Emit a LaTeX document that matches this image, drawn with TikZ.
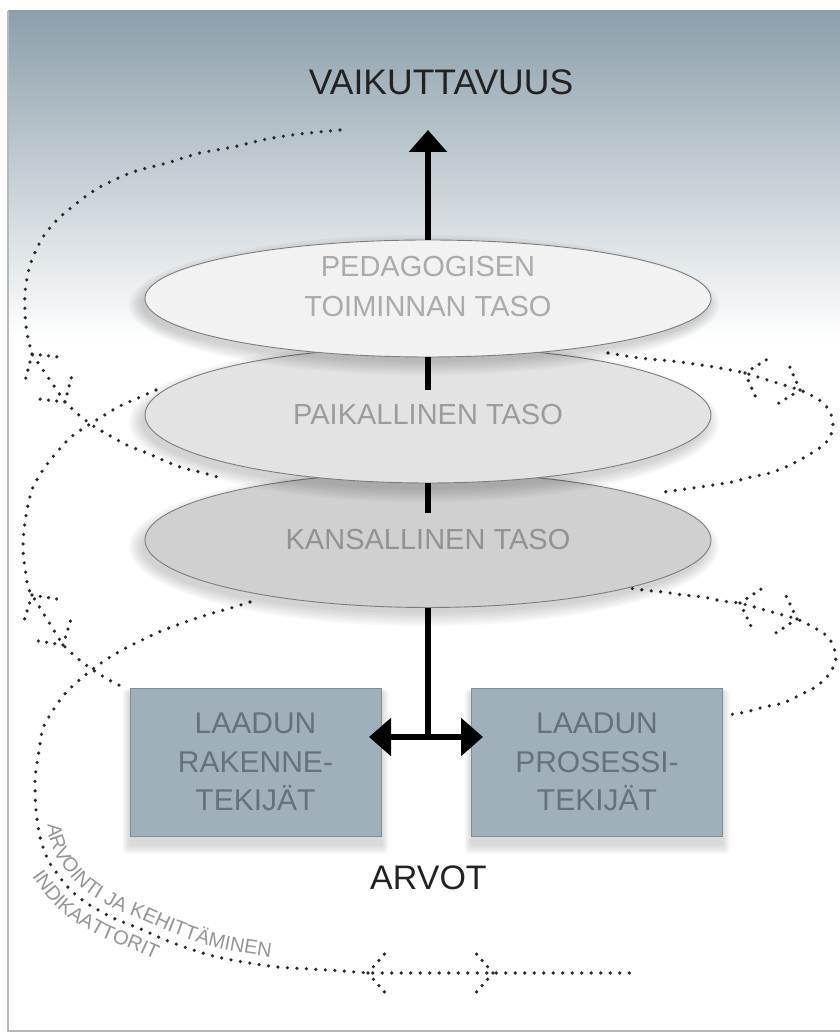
\documentclass[tikz,border=0pt]{standalone}
\usepackage{fontspec}
\setmainfont{Liberation Sans}
\usetikzlibrary{arrows.meta,shapes.geometric,decorations.text}
\definecolor{bgtop}{HTML}{8C9FAB}
\definecolor{bgmid}{HTML}{D2DADF}
\definecolor{dotc}{HTML}{2A2A2A}
\definecolor{ellborder}{HTML}{7C7C7C}
\definecolor{eonefill}{HTML}{F2F2F2}
\definecolor{etwofill}{HTML}{E3E3E3}
\definecolor{ethreefill}{HTML}{D0D0D0}
\definecolor{lvltext}{HTML}{9C9C9C}
\definecolor{boxfill}{HTML}{9FB0BB}
\definecolor{boxborder}{HTML}{7E8E97}
\definecolor{boxtext}{HTML}{65727B}
\definecolor{txtgray}{HTML}{959595}
\definecolor{framec}{HTML}{B8B8B8}
\definecolor{darktext}{HTML}{222222}
\begin{document}
\begin{tikzpicture}[x=1pt,y=1pt,
  dotline/.style={draw=dotc, line width=3.6pt, line cap=round, dash pattern=on 0pt off 9.5pt},
  chevline/.style={draw=dotc, line width=3.6pt, line cap=round, dash pattern=on 0pt off 8.33pt},
  ellbase/.style={ellipse, draw=ellborder, line width=0.9pt, minimum width=566pt, inner sep=0pt},
  lvl/.style={text=lvltext, font=\fontsize{29}{40}\selectfont, align=center, inner sep=0pt},
  boxst/.style={draw=boxborder, fill=boxfill, line width=0.9pt, minimum width=251pt, minimum height=148pt, inner sep=0pt, text=boxtext, font=\fontsize{30}{38.5}\selectfont, align=center},
  barst/.style={line width=6.5pt, draw=black},
  uparr/.style={line width=6.5pt, draw=black, -{Triangle[length=22pt,width=37pt]}},
  dblarr/.style={line width=6.5pt, draw=black, {Triangle[length=22pt,width=37pt]}-{Triangle[length=22pt,width=37pt]}},
  chevback/.pic={\draw[chevline] (0,0) -- (49:25) (0,0) -- (-49:25);},
  chevfwd/.pic={\draw[chevline] (0,0) -- (131:25) (0,0) -- (-131:25);}
]
\useasboundingbox (0,0) rectangle (840,1034);
% background
\shade[top color=bgtop, middle color=bgmid, bottom color=white] (8,694) rectangle (840,1023);
\draw[framec, line width=1.2pt] (8,1023) -- (8,3) -- (840,3);

% chevron vertices
\coordinate (c1a) at (32,680); \coordinate (c1b) at (65,632);
\coordinate (c2a) at (745,661); \coordinate (c2b) at (800,644);
\coordinate (c3a) at (32,439); \coordinate (c3b) at (63,389);
\coordinate (c4a) at (740,431); \coordinate (c4b) at (797,415);
\coordinate (c5a) at (368,61); \coordinate (c5b) at (493,61);
\coordinate (endbot) at (633,61);

% dotted spiral
\draw[dotline] plot[smooth, tension=0.5] coordinates {(340,904) (300,900) (267,895) (233,887) (200,881) (167,871) (133,862) (100,847) (77,831) (57,814) (43,797) (33,777) (28,761) (25,741) (25,721) (27,701) (c1a)}
  -- plot[smooth, tension=0.5] coordinates {(c1b) (80,618) (95,607) (112,597) (129,588) (147,581) (165,573) (183,566) (200,562) (221,556)};
\draw[dotline] plot[smooth, tension=0.5] coordinates {(608,681) (640,676) (680,672) (720,666) (c2a)}
  -- plot[smooth, tension=0.5] coordinates {(c2b) (818,635) (829,624) (833,611) (830,597) (821,587) (805,577) (788,568) (770,561) (751,557) (732,552) (713,549) (693,546) (664,542)};
\draw[dotline] plot[smooth, tension=0.5] coordinates {(156,644) (138,636) (120,628) (103,618) (87,608) (71,597) (57,582) (45,567) (35,551) (31,541) (27,524) (24,504) (23,484) (25,466) (28,447) (c3a)}
  -- plot[smooth, tension=0.5] coordinates {(c3b) (77,376) (93,364) (109,354) (127,345)};
\draw[dotline] plot[smooth, tension=0.5] coordinates {(623,447) (643,444) (663,442) (683,439) (703,437) (722,433) (c4a)}
  -- plot[smooth, tension=0.5] coordinates {(c4b) (813,407) (829,396) (836,377) (830,361) (817,348) (800,339) (783,331) (764,327) (746,322) (727,319)};
\draw[dotline] plot[smooth, tension=0.5] coordinates {(250,432) (231,426) (213,421) (194,415) (177,409) (159,402) (142,394) (124,385) (107,375) (93,365) (77,352) (63,338) (52,322) (43,306) (40,290) (38,277) (36,264) (35,251) (36,224) (40,197) (48,174) (56,162) (65,150) (76,139) (88,130) (100,123) (113,116) (128,110) (143,104) (163,95) (187,86) (213,78) (243,72) (277,67) (310,65) (343,63) (c5a)}
  -- (c5b) -- (endbot);

\pic[rotate=-55.5] at (c1a) {chevback};
\pic[rotate=-55.5] at (c1b) {chevfwd};
\pic[rotate=-17.2] at (c2a) {chevback};
\pic[rotate=-17.2] at (c2b) {chevfwd};
\pic[rotate=-58.2] at (c3a) {chevback};
\pic[rotate=-58.2] at (c3b) {chevfwd};
\pic[rotate=-15.7] at (c4a) {chevback};
\pic[rotate=-15.7] at (c4b) {chevfwd};
\pic at (c5a) {chevback};
\pic at (c5b) {chevfwd};

% curved labels (on offset paths)
\path[decorate, decoration={text along path,
  text={|\fontsize{20}{20}\selectfont\color{txtgray}|ARVOINTI JA KEHITTÄMINEN}}]
  plot[smooth, tension=0.5] coordinates {(48,210) (48.8,198.8) (56.2,177.7) (63.3,167.2) (71.8,155.9) (81.9,145.8) (93,137.5) (104.4,130.8) (116.8,124.2) (131.3,118.4) (146.5,112.3) (166.4,103.3) (189.9,94.5) (215.2,86.7) (244.5,80.9) (277.9,76) (310.5,74) (343.3,72) (380,71)};
\path[decorate, decoration={text along path,
  text={|\fontsize{20}{20}\selectfont\color{txtgray}|INDIKAATTORIT}}]
  plot[smooth, tension=0.5] coordinates {(32,158) (48.4,135.6) (61.6,122.4) (75.8,111.7) (89.2,103.8) (103.7,96) (119.8,89.6) (134.3,83.8) (154.7,74.6) (179.9,65.2) (207.7,56.7) (240,50)};

% ellipse shadows and ellipses
\foreach \i in {1,...,6} {\fill[black, opacity=0.03] (424,487) ellipse [x radius={(280+2.5*\i)*1pt}, y radius={(64+2.5*\i)*1pt}];}
\node[ellbase, fill=ethreefill, minimum height=135pt] (E3) at (428,494) {};
\foreach \i in {1,...,6} {\fill[black, opacity=0.03] (424,612) ellipse [x radius={(280+2.5*\i)*1pt}, y radius={(65+2.5*\i)*1pt}];}
\node[ellbase, fill=etwofill, minimum height=136pt] (E2) at (428,619) {};
\foreach \i in {1,...,6} {\fill[black, opacity=0.03] (424,729) ellipse [x radius={(280+2.5*\i)*1pt}, y radius={(55+2.5*\i)*1pt}];}
\node[ellbase, fill=eonefill, minimum height=117pt] (E1) at (428,735.5) {};

\node[lvl, text=lvltext!85] (T1) at (428,747) {PEDAGOGISEN\\TOIMINNAN TASO};
\node[lvl] (T2) at (428,619.5) {PAIKALLINEN TASO};
\node[lvl, text=lvltext!110] (T3) at (428,494) {KANSALLINEN TASO};

% bars between levels
\draw[barst] ([yshift=-10pt]E2.north) -- ([yshift=-43pt]E2.north);
\draw[barst] ([yshift=-10.5pt]E3.north) -- ([yshift=-40.5pt]E3.north);

% boxes with shadows
\foreach \i in {1,...,5} {\fill[black, opacity=0.03, rounded corners={\i*1pt}] (130-\i*1.5, 190-\i*2) rectangle (381+\i*1.5, 340+\i);}
\foreach \i in {1,...,5} {\fill[black, opacity=0.03, rounded corners={\i*1pt}] (472-\i*1.5, 190-\i*2) rectangle (722+\i*1.5, 340+\i);}
\node[boxst] (BL) at (255.5,272) {LAADUN\\RAKENNE-\\TEKIJÄT};
\node[boxst] (BR) at (597,272) {LAADUN\\PROSESSI-\\TEKIJÄT};

% arrows
\coordinate (tipU) at (428,904);
\coordinate (J) at (428,297);
\coordinate (AL) at (369,297);
\coordinate (AR) at (483,297);
\draw[uparr] (E1.north) -- (tipU);
\draw[barst] (E3.south) -- ([yshift=-3pt]J);
\draw[dblarr] (AL) -- (AR);

% titles
\node[text=darktext, font=\fontsize{35.5}{40}\selectfont, inner sep=0pt] (VK) at (441,952) {VAIKUTTAVUUS};
\node[text=darktext, font=\fontsize{34}{40}\selectfont, inner sep=0pt] (AV) at (428.5,156) {ARVOT};
\end{tikzpicture}
\end{document}
